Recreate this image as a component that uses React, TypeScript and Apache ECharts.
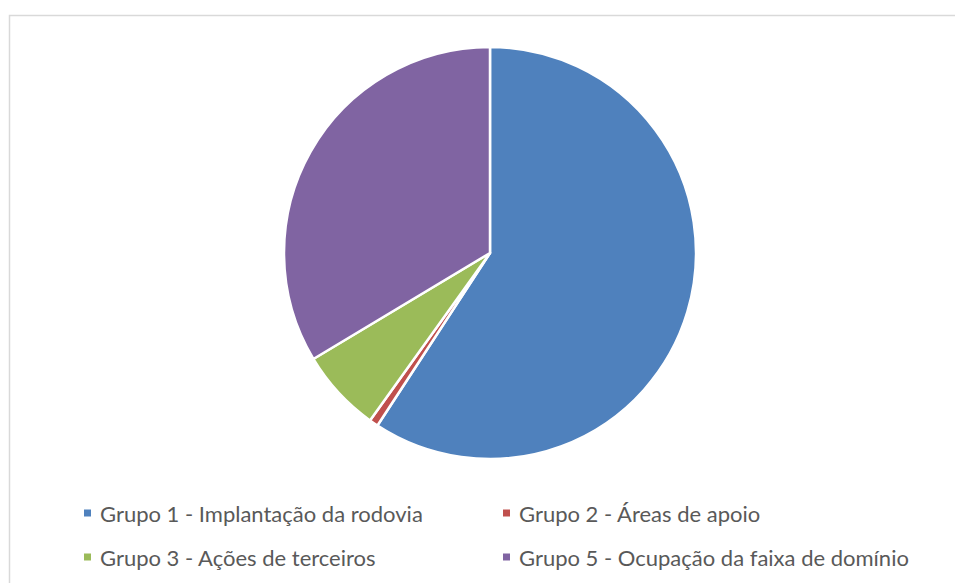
import React, { useEffect, useRef } from "react";
import * as echarts from "echarts";

const categories = [
  "Grupo 1 - Implantação da rodovia",
  "Grupo 2 - Áreas de apoio",
  "Grupo 3 - Ações de terceiros",
  "Grupo 5 - Ocupação da faixa de domínio",
];
const values = [59.2, 0.7, 6.5, 33.6];
const colors = ["#4f81bd", "#c0504d", "#9bbb59", "#8064a2"];

const legendPos = [
  { left: 77, top: 497 },
  { left: 496, top: 497 },
  { left: 77, top: 541 },
  { left: 496, top: 541 },
];

export default function App() {
  const ref = useRef<HTMLDivElement>(null);
  useEffect(() => {
    document.body.style.margin = "0";
    const chart = echarts.init(ref.current!, null, { renderer: "svg" });
    chart.setOption({
      animation: false,
      color: colors,
      graphic: [
        {
          type: "rect",
          shape: { x: 9.5, y: 15.5, width: 960, height: 600 },
          style: { fill: "none", stroke: "#d9d9d9", lineWidth: 1.5 },
          silent: true,
        },
      ],
      legend: categories.map((c, i) => ({
        data: [c],
        left: legendPos[i].left,
        top: legendPos[i].top,
        icon: "rect",
        itemWidth: 9,
        itemHeight: 9,
        itemGap: 0,
        selectedMode: false,
        textStyle: {
          fontFamily: "Lato, 'Open Sans', sans-serif",
          fontSize: 22,
          color: "#595959",
          padding: [0, 0, 0, 3],
        },
      })),
      series: [
        {
          type: "pie",
          center: [490, 253],
          radius: 206,
          startAngle: 90,
          clockwise: true,
          label: { show: false },
          labelLine: { show: false },
          itemStyle: { borderColor: "#ffffff", borderWidth: 2.5 },
          emphasis: { disabled: true },
          data: categories.map((c, i) => ({ name: c, value: values[i] })),
        },
      ],
    });
    return () => chart.dispose();
  }, []);
  return <div ref={ref} style={{ width: 955, height: 583 }} />;
}
